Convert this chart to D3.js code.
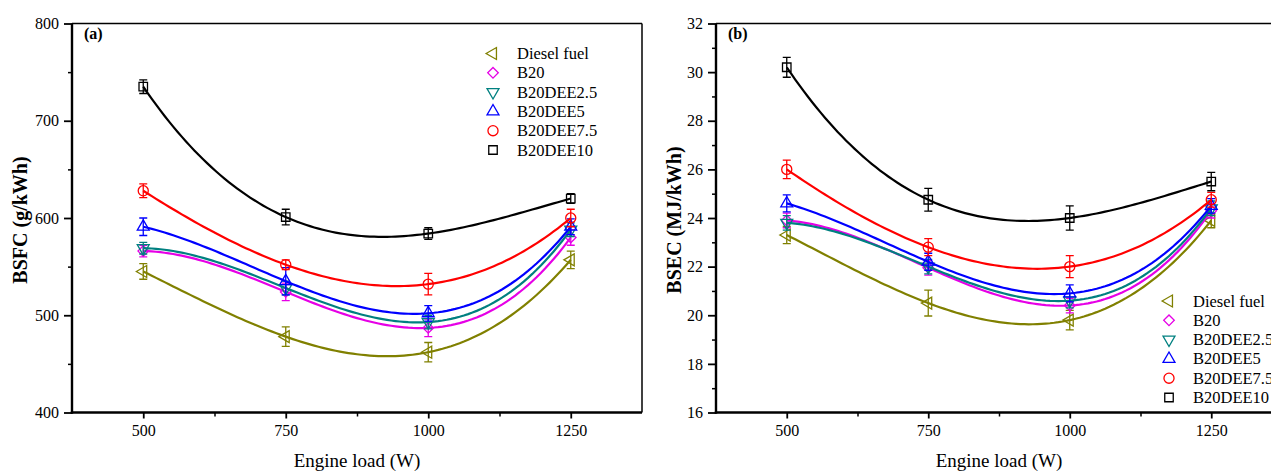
<!DOCTYPE html>
<html>
<head>
<meta charset="utf-8">
<script src="https://cdn.jsdelivr.net/npm/d3@7"></script>
<style>
  body { margin: 0; background: #fff; }
  svg { display: block; font-family: "Liberation Serif", "Times New Roman", serif; }
</style>
</head>
<body>
<div id="chart"></div>
<script>

// ---- data ----

var loads = [500, 750, 1000, 1250];
var fuels = ["Diesel fuel", "B20", "B20DEE2.5", "B20DEE5", "B20DEE7.5", "B20DEE10"];
var colors = ["#808000", "#e600e6", "#008080", "#0000ff", "#ff0000", "#000000"];
var shapes = ["left", "diamond", "down", "up", "circle", "square"];

// (a) BSFC, g/kWh
var bsfcDiesel = [545, 478, 462, 557];
var bsfcB20 = [566, 524, 487, 580];
var bsfcDee25 = [569, 528, 493, 588];
var bsfcDee5 = [591, 535, 502, 591];
var bsfcDee75 = [628, 552, 532, 600];
var bsfcDee10 = [735, 601, 584, 620];

var bsfcErrDiesel = [8, 10, 10, 9];
var bsfcErrB20 = [6, 9, 9, 8];
var bsfcErrDee25 = [6, 7, 7, 7];
var bsfcErrDee5 = [9, 14, 8, 8];
var bsfcErrDee75 = [7, 5, 11, 9];
var bsfcErrDee10 = [7, 8, 6, 5];

// (b) BSEC, MJ/kWh
var bsecDiesel = [23.3, 20.5, 19.8, 23.9];
var bsecB20 = [23.9, 21.95, 20.4, 24.3];
var bsecDee25 = [23.8, 22.0, 20.6, 24.4];
var bsecDee5 = [24.6, 22.2, 20.9, 24.5];
var bsecDee75 = [26.0, 22.8, 22.0, 24.75];
var bsecDee10 = [30.2, 24.75, 24.0, 25.5];

var bsecErrDiesel = [0.35, 0.53, 0.4, 0.3];
var bsecErrB20 = [0.3, 0.3, 0.3, 0.3];
var bsecErrDee25 = [0.3, 0.3, 0.3, 0.3];
var bsecErrDee5 = [0.35, 0.35, 0.35, 0.3];
var bsecErrDee75 = [0.38, 0.35, 0.45, 0.3];
var bsecErrDee10 = [0.41, 0.47, 0.5, 0.38];

var bsfcTicks = [400, 500, 600, 700, 800];
var bsecTicks = [16, 18, 20, 22, 24, 26, 28, 30, 32];
var loadTicks = [500, 750, 1000, 1250];

var W = 1271, H = 471;

var svg = d3.select("#chart").append("svg")
    .attr("width", W)
    .attr("height", H);

// cubic polynomial through the four points (the fitted curve of the figure)
function cubicFit(xs, ys) {
    return function(x) {
        var s = 0;
        for (var i = 0; i < xs.length; i++) {
            var p = ys[i];
            for (var j = 0; j < xs.length; j++) {
                if (j != i) p *= (x - xs[j]) / (xs[i] - xs[j]);
            }
            s += p;
        }
        return s;
    };
}

function markerPath(shape) {
    if (shape == "circle") return d3.symbol(d3.symbolCircle, 80)();
    if (shape == "square") return d3.symbol(d3.symbolSquare, 72)();
    if (shape == "diamond") return d3.symbol(d3.symbolSquare, 56)();
    return d3.symbol(d3.symbolTriangle, 62)();
}

function markerRotate(shape) {
    if (shape == "diamond") return 45;
    if (shape == "down") return 180;
    if (shape == "left") return -90;
    return 0;
}

var panel = function(options) {

    var self = {};
    for (var key in options) {
        self[key] = options[key];
    }

    self.init = function() {
        self.g = svg.append("g");

        self.x = d3.scaleLinear().domain([375, 1375]).range([self.left, self.right]);
        self.y = d3.scaleLinear().domain(self.ydomain).range([self.bottom, self.top]);

        // frame: top and right thin
        self.g.append("line")
            .attr("x1", self.left).attr("x2", self.right)
            .attr("y1", self.top).attr("y2", self.top)
            .attr("stroke", "#000").attr("stroke-width", 1.5);
        self.g.append("line")
            .attr("x1", self.right).attr("x2", self.right)
            .attr("y1", self.top).attr("y2", self.bottom)
            .attr("stroke", "#000").attr("stroke-width", 1.5);

        // minor ticks
        self.g.append("g")
            .attr("transform", "translate(" + self.left + ",0)")
            .call(d3.axisLeft(self.y).tickValues(self.yminor).tickSize(4).tickFormat("").tickSizeOuter(0))
            .call(function(a) { a.select(".domain").remove(); a.selectAll("line").attr("stroke-width", 1.5); });
        self.g.append("g")
            .attr("transform", "translate(0," + self.bottom + ")")
            .call(d3.axisBottom(self.x).tickValues([625, 875, 1125]).tickSize(4).tickFormat("").tickSizeOuter(0))
            .call(function(a) { a.select(".domain").remove(); a.selectAll("line").attr("stroke-width", 1.5); });

        // major axes
        var ay = self.g.append("g")
            .attr("transform", "translate(" + self.left + ",0)")
            .call(d3.axisLeft(self.y).tickValues(self.yticks).tickFormat(d3.format("d"))
                .tickSize(8).tickPadding(5).tickSizeOuter(0));
        var ax = self.g.append("g")
            .attr("transform", "translate(0," + self.bottom + ")")
            .call(d3.axisBottom(self.x).tickValues(loadTicks).tickFormat(d3.format("d"))
                .tickSize(6).tickPadding(6).tickSizeOuter(0));

        [ay, ax].forEach(function(a) {
            a.select(".domain").attr("stroke-width", 2.4);
            a.selectAll(".tick line").attr("stroke-width", 1.8);
            a.selectAll("text")
                .attr("font-family", "Liberation Serif")
                .attr("font-size", 16)
                .attr("fill", "#000");
        });
        ax.select(".domain").attr("d", "M" + (self.left - 1.2) + ",0H" + self.right);
        ay.select(".domain").attr("d", "M0," + self.top + "V" + (self.bottom + 1.2));

        // titles
        self.g.append("text")
            .attr("x", (self.left + Math.min(self.right, 1282)) / 2)
            .attr("y", 467)
            .attr("text-anchor", "middle")
            .attr("font-size", 19)
            .text("Engine load (W)");

        self.g.append("text")
            .attr("transform", "translate(" + self.ytitleX + "," + 220 + ") rotate(-90)")
            .attr("text-anchor", "middle")
            .attr("font-size", 20)
            .attr("font-weight", "bold")
            .text(self.ytitle);

        self.g.append("text")
            .attr("x", self.left + 12)
            .attr("y", 39)
            .attr("font-size", 16)
            .attr("font-weight", "bold")
            .text(self.tag);
    };

    self.render = function() {
        var line = d3.line()
            .x(function(d) { return self.x(d[0]); })
            .y(function(d) { return self.y(d[1]); });

        self.series.forEach(function(vals, i) {
            var f = cubicFit(loads, vals);
            var pts = d3.range(500, 1250.01, 7.5).map(function(v) { return [v, f(v)]; });
            var g = self.g.append("g");

            g.append("path")
                .attr("d", line(pts))
                .attr("fill", "none")
                .attr("stroke", colors[i])
                .attr("stroke-width", 2.2);

            var errs = self.errors[i];
            loads.forEach(function(ld, k) {
                var cx = self.x(ld);
                var hi = self.y(vals[k] + errs[k]), lo = self.y(vals[k] - errs[k]);
                g.append("path")
                    .attr("d", "M" + cx + "," + hi + "V" + lo +
                        "M" + (cx - 4) + "," + hi + "H" + (cx + 4) +
                        "M" + (cx - 4) + "," + lo + "H" + (cx + 4))
                    .attr("fill", "none")
                    .attr("stroke", colors[i])
                    .attr("stroke-width", 1.3);
                g.append("path")
                    .attr("d", markerPath(shapes[i]))
                    .attr("transform", "translate(" + cx + "," + self.y(vals[k]) + ") rotate(" + markerRotate(shapes[i]) + ")")
                    .attr("fill", "none")
                    .attr("stroke", colors[i])
                    .attr("stroke-width", 1.3);
            });
        });

        // legend
        var lg = self.g.append("g");
        fuels.forEach(function(name, i) {
            var yy = self.legendY + i * 19.3;
            lg.append("path")
                .attr("d", markerPath(shapes[i]))
                .attr("transform", "translate(" + self.legendX + "," + yy + ") rotate(" + markerRotate(shapes[i]) + ")")
                .attr("fill", "none")
                .attr("stroke", colors[i])
                .attr("stroke-width", 1.3);
            lg.append("text")
                .attr("x", self.legendX + 24)
                .attr("y", yy + 5.5)
                .attr("font-size", 16.5)
                .text(name);
        });
    };

    self.init();
    self.render();

    return self;
};

var panelA = panel({
    left: 72, right: 642, top: 23.5, bottom: 412.5,
    ydomain: [400, 800], yticks: bsfcTicks, yminor: [450, 550, 650, 750],
    ytitle: "BSFC (g/kWh)", ytitleX: 27, tag: "(a)",
    series: [bsfcDiesel, bsfcB20, bsfcDee25, bsfcDee5, bsfcDee75, bsfcDee10],
    errors: [bsfcErrDiesel, bsfcErrB20, bsfcErrDee25, bsfcErrDee5, bsfcErrDee75, bsfcErrDee10],
    legendX: 493, legendY: 53.5
});

var panelB = panel({
    left: 716, right: 1282, top: 23.5, bottom: 412.5,
    ydomain: [16, 32], yticks: bsecTicks, yminor: [17, 19, 21, 23, 25, 27, 29, 31],
    ytitle: "BSEC (MJ/kWh)", ytitleX: 681, tag: "(b)",
    series: [bsecDiesel, bsecB20, bsecDee25, bsecDee5, bsecDee75, bsecDee10],
    errors: [bsecErrDiesel, bsecErrB20, bsecErrDee25, bsecErrDee5, bsecErrDee75, bsecErrDee10],
    legendX: 1169, legendY: 301
});

</script>
</body>
</html>
